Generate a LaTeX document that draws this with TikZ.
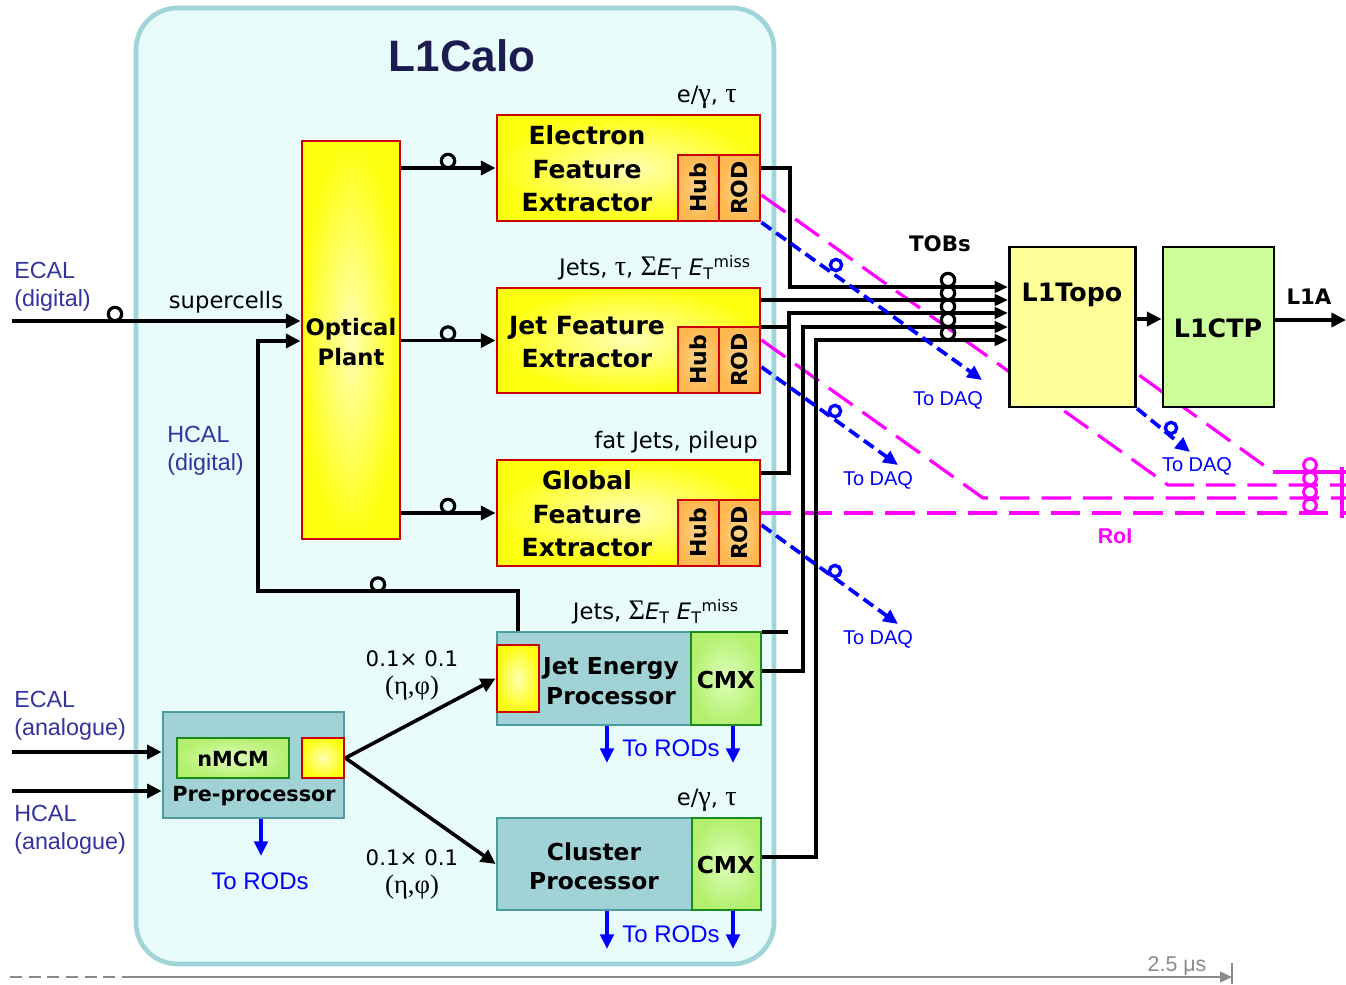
\documentclass[tikz,border=0pt]{standalone}
\usepackage{fontspec}
\setmainfont{DejaVu Sans}
\newfontfamily\arialf{Liberation Sans}
\newfontfamily\serf[Scale=1.25]{Liberation Serif}
\usetikzlibrary{arrows.meta,calc}
\pgfdeclarelayer{back}
\pgfdeclarelayer{lines}
\pgfsetlayers{back,lines,main}
\definecolor{calofill}{HTML}{E8FCFC}
\definecolor{caloborder}{HTML}{A0D4D8}
\definecolor{tealfill}{HTML}{A0D2D6}
\definecolor{tealborder}{HTML}{4E9CA0}
\definecolor{fexred}{HTML}{CC0000}
\definecolor{paleyel}{HTML}{FFFFB4}
\definecolor{brightyel}{HTML}{FFFF10}
\definecolor{hublight}{HTML}{FFD58A}
\definecolor{hubdark}{HTML}{FFB750}
\definecolor{cmxlight}{HTML}{DDFFB8}
\definecolor{cmxdark}{HTML}{B4F070}
\definecolor{cmxborder}{HTML}{1A8A1A}
\definecolor{navy}{HTML}{1C1C50}
\definecolor{labblue}{HTML}{3333A0}
\definecolor{daqblue}{HTML}{0000FF}
\definecolor{roimag}{HTML}{FF00FF}
\definecolor{topofill}{HTML}{FFFF99}
\definecolor{ctpfill}{HTML}{CCFF99}
\definecolor{timegray}{HTML}{8A8A8A}
\newcommand{\gk}[1]{{\serf #1}}
\newcommand{\ETs}{\textit{E}\textsubscript{T}}
\newcommand{\ETm}{\textit{E}\textsubscript{T}\textsuperscript{miss}}
\tikzset{
  px/.style 2 args={minimum width=#1*0.75pt, minimum height=#2*0.75pt},
  fexbox/.style={draw=fexred, line width=2.2pt, inner color=paleyel, outer color=brightyel, inner sep=0pt},
  hubbox/.style={draw=fexred, line width=2.2pt, inner color=hublight, outer color=hubdark, inner sep=0pt},
  tealbox/.style={draw=tealborder, line width=2pt, fill=tealfill, inner sep=0pt},
  cmxbox/.style={draw=cmxborder, line width=2.2pt, inner color=cmxlight, outer color=cmxdark, inner sep=0pt},
  topobox/.style={draw=black, line width=2.2pt, fill=topofill, inner sep=0pt},
  ctpbox/.style={draw=black, line width=2.2pt, fill=ctpfill, inner sep=0pt},
  calobox/.style={draw=caloborder, line width=3.5pt, fill=calofill, rounded corners=31pt, inner sep=0pt},
  fext/.style={font=\fontsize{18.75}{25}\selectfont\bfseries, align=center, inner sep=0pt},
  optt/.style={font=\fontsize{17}{22.5}\selectfont\bfseries, align=center, inner sep=0pt},
  proct/.style={font=\fontsize{17.5}{23}\selectfont\bfseries, align=center, inner sep=0pt},
  hubt/.style={font=\fontsize{16.5}{18}\selectfont\bfseries, inner sep=0pt, rotate=90},
  ppt/.style={font=\fontsize{15.6}{18}\selectfont\bfseries, inner sep=0pt},
  topot/.style={font=\fontsize{19}{22}\selectfont\bfseries, inner sep=0pt},
  smbold/.style={font=\fontsize{16}{18}\selectfont\bfseries, inner sep=0pt},
  lab/.style={font=\fontsize{17}{20}\selectfont, inner sep=0pt},
  numlab/.style={font=\fontsize{16}{21}\selectfont, inner sep=0pt, align=center},
  bluelab/.style={font=\arialf\fontsize{17.5}{21}\selectfont, text=labblue, inner sep=0pt, align=left},
  daqt/.style={font=\arialf\fontsize{15}{18}\selectfont, text=daqblue, inner sep=0pt},
  rodt/.style={font=\arialf\fontsize{18}{21}\selectfont, text=daqblue, inner sep=0pt},
  ring/.style={circle, draw=black, line width=2.4pt, minimum size=10pt, inner sep=0pt},
  bring/.style={circle, draw=daqblue, line width=2.5pt, minimum size=8.5pt, inner sep=0pt},
  mring/.style={circle, draw=roimag, line width=2.3pt, minimum size=9.5pt, inner sep=0pt},
  blk/.style={draw=black, line width=2.7pt},
  parr/.style={blk, -{Triangle[length=11pt,width=10.5pt]}},
  tarr/.style={blk, -{Triangle[length=10pt,width=8.5pt]}},
  daq/.style={draw=daqblue, line width=2.8pt, dash pattern=on 9pt off 4.5pt, -{Triangle[length=11pt,width=10pt]}},
  rodarr/.style={draw=daqblue, line width=3pt, -{Triangle[length=11pt,width=10pt]}},
  roi/.style={draw=roimag, line width=2.4pt, dash pattern=on 22pt off 9pt},
}
\begin{document}
\begin{tikzpicture}[x=0.75pt,y=-0.75pt]
\useasboundingbox (0,0) rectangle (1346,985);

% container
\begin{pgfonlayer}{back}
\node[calobox, px={638}{956}] (calo) at (455,486) {};
\end{pgfonlayer}
\node[font=\arialf\fontsize{33}{36}\selectfont\bfseries, text=navy, inner sep=0pt] (title) at (462,56) {L1Calo};

% Optical plant
\node[fexbox, px={98}{398}] (optical) at (351,340) {};
\node[optt] (opticalt) at (351,342) {Optical\\Plant};

% eFEX
\node[fexbox, px={263}{106}] (efex) at (628.5,168) {};
\node[hubbox, px={41}{66}] (efexhub) at (698.5,188) {};
\node[hubbox, px={41}{66}] (efexrod) at (739.5,188) {};
\node[fext] (efext) at (587,169) {Electron\\Feature\\Extractor};
\node[hubt] (efexhubt) at (efexhub) {Hub};
\node[hubt] (efexrodt) at (efexrod) {ROD};

% jFEX
\node[fexbox, px={263}{105}] (jfex) at (628.5,340.5) {};
\node[hubbox, px={41}{66}] (jfexhub) at (698.5,360) {};
\node[hubbox, px={41}{66}] (jfexrod) at (739.5,360) {};
\node[fext] (jfext) at (587,342) {Jet Feature\\Extractor};
\node[hubt] (jfexhubt) at (jfexhub) {Hub};
\node[hubt] (jfexrodt) at (jfexrod) {ROD};

% gFEX
\node[fexbox, px={263}{106}] (gfex) at (628.5,513) {};
\node[hubbox, px={41}{66}] (gfexhub) at (698.5,533) {};
\node[hubbox, px={41}{66}] (gfexrod) at (739.5,533) {};
\node[fext] (gfext) at (587,514) {Global\\Feature\\Extractor};
\node[hubt] (gfexhubt) at (gfexhub) {Hub};
\node[hubt] (gfexrodt) at (gfexrod) {ROD};

% JEP
\node[tealbox, px={194}{93}] (jep) at (594,678.5) {};
\node[cmxbox, px={70}{93}] (jepcmx) at (726,678.5) {};
\node[fexbox, px={42}{67}] (jepyel) at (518,678.5) {};
\node[proct] (jept) at (611,681) {Jet Energy\\Processor};
\node[proct] (jepcmxt) at (726,680) {CMX};

% CP
\node[tealbox, px={195}{92}] (cp) at (594.5,864) {};
\node[cmxbox, px={69}{92}] (cpcmx) at (726.5,864) {};
\node[font=\fontsize{17.5}{21.5}\selectfont\bfseries, align=center, inner sep=0pt] (cpt) at (594,866) {Cluster\\Processor};
\node[proct] (cpcmxt) at (726,865) {CMX};

% Pre-processor
\node[tealbox, px={181}{106}] (pp) at (253.5,765) {};
\node[cmxbox, px={112}{40}] (nmcm) at (233,758) {};
\node[fexbox, px={42}{40}] (ppyel) at (323,758) {};
\node[ppt] (nmcmt) at (233,759) {nMCM};
\node[ppt] (ppt) at (254,796) {Pre-processor};

% L1Topo, L1CTP
\node[topobox, px={126}{160}] (topo) at (1072.5,327) {};
\node[ctpbox, px={111}{160}] (ctp) at (1218.5,327) {};
\node[topot] (topot) at (1072,295) {L1Topo};
\node[topot] (ctpt) at (1218,328) {L1CTP};

% coordinates
\coordinate (tina) at (1010,287);
\coordinate (tinb) at (1010,300);
\coordinate (tinc) at (1010,313);
\coordinate (tind) at (1010,327);
\coordinate (tine) at (1010,340);
\coordinate (jst) at (788,327);
\coordinate (g1) at (789,473);
\coordinate (jst2) at (788,632);
\coordinate (jc1) at (803,671);
\coordinate (cc1) at (816,857);
\coordinate (ecalin) at (12,321);
\coordinate (h1) at (518,591);
\coordinate (h2) at (258,591);
\coordinate (h3) at (258,341);
\coordinate (ea) at (12,752);
\coordinate (hb) at (12,791);
\coordinate (jr1) at (607,763);
\coordinate (jr2) at (733,763);
\coordinate (cr1) at (607,949);
\coordinate (cr2) at (733,949);
\coordinate (pr) at (261,856);
\coordinate (daq1) at (982,380);
\coordinate (daq2) at (898,465);
\coordinate (daq3) at (898,624);
\coordinate (daq4) at (1190,452);
\coordinate (tc) at (1163,319);
\coordinate (l1a) at (1346,320);
\coordinate (ma) at (1168,485);
\coordinate (mae) at (1346,485);
\coordinate (mb) at (983,498);
\coordinate (mbe) at (1346,498);
\coordinate (mce) at (1346,513);
\coordinate (md) at (1273,472);
\coordinate (mde) at (1346,472);
\coordinate (tl0) at (10,977);
\coordinate (tl1) at (125,977);
\coordinate (tl2) at (1232,977);

\begin{pgfonlayer}{lines}
% RoI lines
\draw[roi] ($(efexrod.east)+(0,7)$) -- (ma) -- (mae);
\draw[roi] ($(jfexrod.east)+(0,-20)$) -- (mb) -- (mbe);
\draw[roi] ($(gfexrod.east)+(0,-20)$) -- (mce);
\draw[roi] (topo.center) -- (md);
\draw[draw=roimag, line width=2.4pt] (md) -- (mde);
\draw[draw=roimag, line width=2.4pt] (1342,467) -- (1342,518);
% inputs
\draw[parr] (ecalin) -- (optical.west |- ecalin);
\draw[parr] (jepyel.north) -- (h1) -- (h2) -- (h3) -- (optical.west |- h3);
\draw[parr] (ea) -- (pp.west |- ea);
\draw[parr] (hb) -- (pp.west |- hb);
% optical plant to FEX
\draw[parr] (optical.east |- efex.west) -- (efex.west);
\draw[parr] (optical.east |- jfex.west) -- (jfex.west);
\draw[parr] (optical.east |- gfex.west) -- (gfex.west);
% pre-processor to JEP / CP
\draw[parr] (ppyel.east) -- (jepyel.west);
\draw[parr] (ppyel.east) -- (cp.west);
% TOBs to L1Topo
\draw[tarr] (efex.east) -| (790,287) -- (topo.west |- tina);
\draw[tarr] (jfex.east |- tinb) -- (topo.west |- tinb);
\draw[blk] (jfex.east |- jst) -- (jst);
\draw[tarr] (gfex.east |- g1) -- (g1) -- (g1 |- tinc) -- (topo.west |- tinc);
\draw[blk] (jepcmx.east |- jst2) -- (jst2);
\draw[tarr] (jepcmx.east |- jc1) -- (jc1) -- (jc1 |- tind) -- (topo.west |- tind);
\draw[tarr] (cpcmx.east |- cc1) -- (cc1) -- (cc1 |- tine) -- (topo.west |- tine);
\draw[parr] (topo.east |- tc) -- (ctp.west |- tc);
\draw[parr] (ctp.east |- l1a) -- (l1a);
% to DAQ
\draw[daq] (efexrod.south east) -- (daq1);
\draw[daq] ($(jfexrod.east)+(0,7)$) -- (daq2);
\draw[daq] ($(gfexrod.east)+(0,-8)$) -- (daq3);
\draw[daq] (topo.south east) -- (daq4);
% to RODs
\draw[rodarr] (jr1 |- jep.south) -- (jr1);
\draw[rodarr] (jr2 |- jepcmx.south) -- (jr2);
\draw[rodarr] (cr1 |- cp.south) -- (cr1);
\draw[rodarr] (cr2 |- cpcmx.south) -- (cr2);
\draw[rodarr] (pr |- pp.south) -- (pr);
% timeline
\draw[draw=timegray, line width=1.6pt, dash pattern=on 9pt off 5pt] (tl0) -- (tl1);
\draw[draw=timegray, line width=1.6pt, -{Triangle[length=9pt,width=8pt]}] (tl1) -- (tl2);
\draw[draw=timegray, line width=1.2pt] (1232,963) -- (1232,984);
\end{pgfonlayer}

% rings
\node[ring] (r1) at (115,314) {};
\node[ring] (r2) at (448,161) {};
\node[ring] (r3) at (448,333.5) {};
\node[ring] (r4) at (448,506) {};
\node[ring] (r5) at (378,584.5) {};
\node[ring] (ta) at (948,280) {};
\node[ring] (tb) at (948,293) {};
\node[ring] (tcr) at (948,306.5) {};
\node[ring] (td) at (948,320) {};
\node[ring] (te) at (948,333) {};
\node[bring] (b1) at (836,265) {};
\node[bring] (b2) at (835,411) {};
\node[bring] (b3) at (835,571) {};
\node[bring] (b4) at (1171,428) {};
\node[mring] (m1) at (1310,465) {};
\node[mring] (m2) at (1310,478.5) {};
\node[mring] (m3) at (1310,492) {};
\node[mring] (m4) at (1310,505.5) {};

% labels
\node[lab, anchor=east] (lbe) at (737,97) {e/\gk{γ}, \gk{τ}};
\node[lab, anchor=east] (lbj) at (751,268) {Jets, \gk{τ}, \gk{Σ}\ETs\ \ETm};
\node[lab, anchor=east] (lbg) at (758,442) {fat Jets, pileup};
\node[lab, anchor=east] (lbjep) at (739,612) {Jets, \gk{Σ}\ETs\ \ETm};
\node[lab, anchor=east] (lbcp) at (737,800) {e/\gk{γ}, \gk{τ}};
\node[lab] (superc) at (226,302) {supercells};
\node[numlab] (gr1) at (412,675) {0.1× 0.1\\\gk{(η,φ)}};
\node[numlab] (gr2) at (412,874) {0.1× 0.1\\\gk{(η,φ)}};
\node[bluelab, anchor=west] (ecald) at (14,287) {ECAL\\(digital)};
\node[bluelab, anchor=west] (hcald) at (167,451) {HCAL\\(digital)};
\node[bluelab, anchor=west] (ecala) at (14,716) {ECAL\\(analogue)};
\node[bluelab, anchor=west] (hcala) at (14,830) {HCAL\\(analogue)};
\node[daqt] (daqt1) at (948,400) {To DAQ};
\node[daqt] (daqt2) at (878,480) {To DAQ};
\node[daqt] (daqt3) at (878,639) {To DAQ};
\node[daqt] (daqt4) at (1197,466) {To DAQ};
\node[rodt] (rodt1) at (671,748) {To RODs};
\node[rodt] (rodt2) at (671,934) {To RODs};
\node[rodt] (rodt3) at (260,881) {To RODs};
\node[smbold] (tobs) at (940,244) {TOBs};
\node[smbold] (l1at) at (1309,297) {L1A};
\node[font=\arialf\fontsize{16}{18}\selectfont\bfseries, text=roimag, inner sep=0pt] (roit) at (1115,536) {RoI};
\node[font=\arialf\fontsize{16}{18}\selectfont, text=timegray, inner sep=0pt] (timet) at (1177,966) {2.5 μs};
\end{tikzpicture}
\end{document}
